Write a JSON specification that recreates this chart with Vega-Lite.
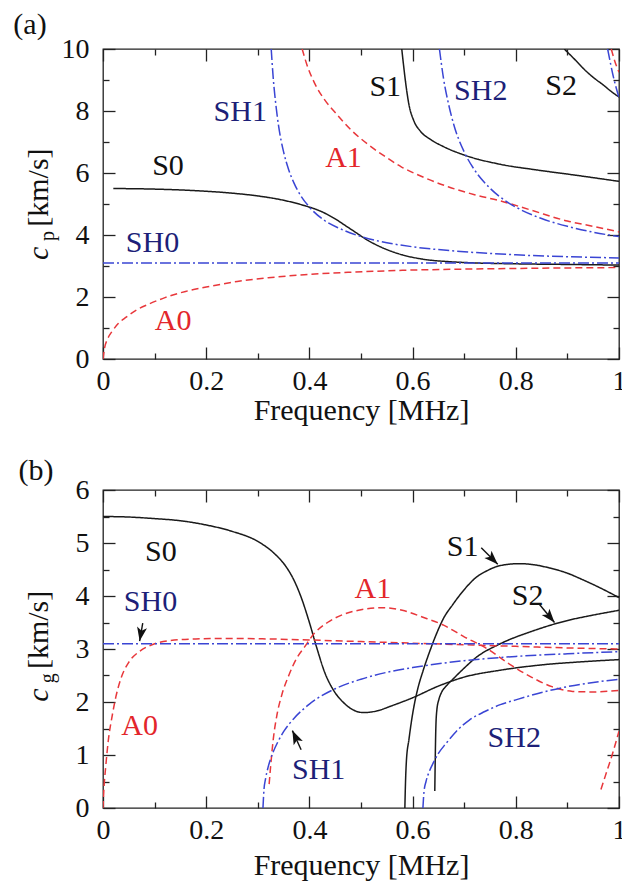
{
"$schema": "https://vega.github.io/schema/vega-lite/v6.json",
"padding": {"left": 12, "top": 9, "right": 0, "bottom": 0},
"spacing": 29,
"config": {
 "font": "Liberation Serif, Times New Roman, Times, DejaVu Serif, serif",
 "view": {"stroke": "#222222", "strokeWidth": 1.3},
 "text": {"font": "Liberation Serif, Times New Roman, Times, DejaVu Serif, serif"},
 "axis": {"grid": false, "domain": false, "labelFont": "Liberation Serif, Times New Roman, Times, DejaVu Serif, serif", "titleFont": "Liberation Serif, Times New Roman, Times, DejaVu Serif, serif", "labelColor": "#111111", "titleColor": "#111111", "tickColor": "#222222", "tickWidth": 1.3, "labelFontSize": 28, "titleFontSize": 30, "titleFontWeight": "normal", "labelFlush": false, "labelOverlap": false}
},
"datasets": {
 "curvesA": [
  {"m":"S0","fam":"S","f":0.02,"v":5.5},{"m":"S0","fam":"S","f":0.1,"v":5.48},{"m":"S0","fam":"S","f":0.18,"v":5.43},{"m":"S0","fam":"S","f":0.25,"v":5.35},{"m":"S0","fam":"S","f":0.3,"v":5.26},{"m":"S0","fam":"S","f":0.35,"v":5.12},{"m":"S0","fam":"S","f":0.39,"v":4.95},{"m":"S0","fam":"S","f":0.42,"v":4.78},{"m":"S0","fam":"S","f":0.45,"v":4.52},{"m":"S0","fam":"S","f":0.47,"v":4.3},{"m":"S0","fam":"S","f":0.49,"v":4.08},{"m":"S0","fam":"S","f":0.51,"v":3.86},{"m":"S0","fam":"S","f":0.54,"v":3.6},{"m":"S0","fam":"S","f":0.58,"v":3.36},{"m":"S0","fam":"S","f":0.62,"v":3.22},{"m":"S0","fam":"S","f":0.67,"v":3.14},{"m":"S0","fam":"S","f":0.72,"v":3.1},{"m":"S0","fam":"S","f":0.8,"v":3.07},{"m":"S0","fam":"S","f":0.9,"v":3.05},{"m":"S0","fam":"S","f":1.0,"v":3.03},
  {"m":"A0","fam":"A","f":0,"v":0},{"m":"A0","fam":"A","f":0.003,"v":0.35},{"m":"A0","fam":"A","f":0.009,"v":0.65},{"m":"A0","fam":"A","f":0.018,"v":0.9},{"m":"A0","fam":"A","f":0.03,"v":1.15},{"m":"A0","fam":"A","f":0.045,"v":1.35},{"m":"A0","fam":"A","f":0.065,"v":1.58},{"m":"A0","fam":"A","f":0.09,"v":1.78},{"m":"A0","fam":"A","f":0.12,"v":1.98},{"m":"A0","fam":"A","f":0.16,"v":2.18},{"m":"A0","fam":"A","f":0.2,"v":2.32},{"m":"A0","fam":"A","f":0.26,"v":2.5},{"m":"A0","fam":"A","f":0.32,"v":2.62},{"m":"A0","fam":"A","f":0.39,"v":2.72},{"m":"A0","fam":"A","f":0.48,"v":2.8},{"m":"A0","fam":"A","f":0.58,"v":2.86},{"m":"A0","fam":"A","f":0.7,"v":2.9},{"m":"A0","fam":"A","f":0.85,"v":2.93},{"m":"A0","fam":"A","f":1.0,"v":2.95},
  {"m":"SH0","fam":"SH","f":0,"v":3.1},{"m":"SH0","fam":"SH","f":1,"v":3.1},
  {"m":"SH1","fam":"SH","f":0.326,"v":10},{"m":"SH1","fam":"SH","f":0.33,"v":9.04},{"m":"SH1","fam":"SH","f":0.335,"v":8.2},{"m":"SH1","fam":"SH","f":0.34,"v":7.55},{"m":"SH1","fam":"SH","f":0.35,"v":6.68},{"m":"SH1","fam":"SH","f":0.36,"v":6.1},{"m":"SH1","fam":"SH","f":0.37,"v":5.68},{"m":"SH1","fam":"SH","f":0.385,"v":5.22},{"m":"SH1","fam":"SH","f":0.4,"v":4.9},{"m":"SH1","fam":"SH","f":0.43,"v":4.46},{"m":"SH1","fam":"SH","f":0.46,"v":4.2},{"m":"SH1","fam":"SH","f":0.5,"v":3.95},{"m":"SH1","fam":"SH","f":0.55,"v":3.75},{"m":"SH1","fam":"SH","f":0.6,"v":3.62},{"m":"SH1","fam":"SH","f":0.7,"v":3.46},{"m":"SH1","fam":"SH","f":0.8,"v":3.36},{"m":"SH1","fam":"SH","f":0.9,"v":3.3},{"m":"SH1","fam":"SH","f":1.0,"v":3.26},
  {"m":"A1","fam":"A","f":0.386,"v":10},{"m":"A1","fam":"A","f":0.395,"v":9.5},{"m":"A1","fam":"A","f":0.41,"v":8.9},{"m":"A1","fam":"A","f":0.43,"v":8.35},{"m":"A1","fam":"A","f":0.45,"v":7.95},{"m":"A1","fam":"A","f":0.48,"v":7.4},{"m":"A1","fam":"A","f":0.513,"v":6.93},{"m":"A1","fam":"A","f":0.545,"v":6.55},{"m":"A1","fam":"A","f":0.578,"v":6.2},{"m":"A1","fam":"A","f":0.62,"v":5.87},{"m":"A1","fam":"A","f":0.67,"v":5.55},{"m":"A1","fam":"A","f":0.72,"v":5.3},{"m":"A1","fam":"A","f":0.77,"v":5.1},{"m":"A1","fam":"A","f":0.83,"v":4.8},{"m":"A1","fam":"A","f":0.9,"v":4.45},{"m":"A1","fam":"A","f":0.95,"v":4.28},{"m":"A1","fam":"A","f":1.0,"v":4.1},
  {"m":"S1","fam":"S","f":0.579,"v":10},{"m":"S1","fam":"S","f":0.583,"v":9.4},{"m":"S1","fam":"S","f":0.587,"v":8.85},{"m":"S1","fam":"S","f":0.593,"v":8.2},{"m":"S1","fam":"S","f":0.602,"v":7.7},{"m":"S1","fam":"S","f":0.615,"v":7.35},{"m":"S1","fam":"S","f":0.635,"v":7.08},{"m":"S1","fam":"S","f":0.66,"v":6.85},{"m":"S1","fam":"S","f":0.7,"v":6.58},{"m":"S1","fam":"S","f":0.77,"v":6.28},{"m":"S1","fam":"S","f":0.84,"v":6.1},{"m":"S1","fam":"S","f":0.92,"v":5.92},{"m":"S1","fam":"S","f":1.0,"v":5.73},
  {"m":"SH2","fam":"SH","f":0.652,"v":10},{"m":"SH2","fam":"SH","f":0.66,"v":9.04},{"m":"SH2","fam":"SH","f":0.67,"v":8.2},{"m":"SH2","fam":"SH","f":0.68,"v":7.55},{"m":"SH2","fam":"SH","f":0.7,"v":6.68},{"m":"SH2","fam":"SH","f":0.72,"v":6.1},{"m":"SH2","fam":"SH","f":0.75,"v":5.51},{"m":"SH2","fam":"SH","f":0.78,"v":5.1},{"m":"SH2","fam":"SH","f":0.8,"v":4.9},{"m":"SH2","fam":"SH","f":0.85,"v":4.53},{"m":"SH2","fam":"SH","f":0.9,"v":4.28},{"m":"SH2","fam":"SH","f":0.95,"v":4.09},{"m":"SH2","fam":"SH","f":1.0,"v":3.95},
  {"m":"S2","fam":"S","f":0.894,"v":10},{"m":"S2","fam":"S","f":0.915,"v":9.65},{"m":"S2","fam":"S","f":0.936,"v":9.29},{"m":"S2","fam":"S","f":0.955,"v":9.02},{"m":"S2","fam":"S","f":0.968,"v":8.86},{"m":"S2","fam":"S","f":0.985,"v":8.63},{"m":"S2","fam":"S","f":1.0,"v":8.45},
  {"m":"SH3","fam":"SH","f":0.978,"v":10},{"m":"SH3","fam":"SH","f":0.99,"v":9.04},{"m":"SH3","fam":"SH","f":1.0,"v":8.43},
  {"m":"A2","fam":"A","f":0.985,"v":10},{"m":"A2","fam":"A","f":0.992,"v":9.6},{"m":"A2","fam":"A","f":1.0,"v":9.25}
 ],
 "labelsA": [
  {"lab":"S0","fam":"S","f":0.126,"v":6.22},{"lab":"SH1","fam":"SH","f":0.266,"v":7.98},{"lab":"A1","fam":"A","f":0.466,"v":6.48},{"lab":"S1","fam":"S","f":0.547,"v":8.79},{"lab":"SH2","fam":"SH","f":0.732,"v":8.63},{"lab":"S2","fam":"S","f":0.888,"v":8.82},{"lab":"SH0","fam":"SH","f":0.096,"v":3.75},{"lab":"A0","fam":"A","f":0.136,"v":1.23}
 ],
 "curvesB": [
  {"m":"S0","fam":"S","f":0,"v":5.5},{"m":"S0","fam":"S","f":0.05,"v":5.49},{"m":"S0","fam":"S","f":0.1,"v":5.46},{"m":"S0","fam":"S","f":0.15,"v":5.42},{"m":"S0","fam":"S","f":0.2,"v":5.34},{"m":"S0","fam":"S","f":0.25,"v":5.22},{"m":"S0","fam":"S","f":0.3,"v":5.03},{"m":"S0","fam":"S","f":0.33,"v":4.82},{"m":"S0","fam":"S","f":0.355,"v":4.55},{"m":"S0","fam":"S","f":0.37,"v":4.3},{"m":"S0","fam":"S","f":0.385,"v":3.95},{"m":"S0","fam":"S","f":0.4,"v":3.5},{"m":"S0","fam":"S","f":0.415,"v":3.0},{"m":"S0","fam":"S","f":0.43,"v":2.55},{"m":"S0","fam":"S","f":0.445,"v":2.25},{"m":"S0","fam":"S","f":0.465,"v":2.0},{"m":"S0","fam":"S","f":0.485,"v":1.85},{"m":"S0","fam":"S","f":0.505,"v":1.8},{"m":"S0","fam":"S","f":0.53,"v":1.83},{"m":"S0","fam":"S","f":0.56,"v":1.93},{"m":"S0","fam":"S","f":0.6,"v":2.08},{"m":"S0","fam":"S","f":0.65,"v":2.3},{"m":"S0","fam":"S","f":0.7,"v":2.47},{"m":"S0","fam":"S","f":0.77,"v":2.6},{"m":"S0","fam":"S","f":0.85,"v":2.7},{"m":"S0","fam":"S","f":0.93,"v":2.76},{"m":"S0","fam":"S","f":1.0,"v":2.8},
  {"m":"S1","fam":"S","f":0.585,"v":0},{"m":"S1","fam":"S","f":0.586,"v":0.4},{"m":"S1","fam":"S","f":0.588,"v":0.89},{"m":"S1","fam":"S","f":0.593,"v":1.3},{"m":"S1","fam":"S","f":0.601,"v":1.83},{"m":"S1","fam":"S","f":0.61,"v":2.25},{"m":"S1","fam":"S","f":0.62,"v":2.58},{"m":"S1","fam":"S","f":0.633,"v":2.95},{"m":"S1","fam":"S","f":0.646,"v":3.28},{"m":"S1","fam":"S","f":0.66,"v":3.58},{"m":"S1","fam":"S","f":0.678,"v":3.84},{"m":"S1","fam":"S","f":0.7,"v":4.12},{"m":"S1","fam":"S","f":0.723,"v":4.35},{"m":"S1","fam":"S","f":0.745,"v":4.48},{"m":"S1","fam":"S","f":0.768,"v":4.57},{"m":"S1","fam":"S","f":0.807,"v":4.61},{"m":"S1","fam":"S","f":0.835,"v":4.59},{"m":"S1","fam":"S","f":0.865,"v":4.53},{"m":"S1","fam":"S","f":0.9,"v":4.43},{"m":"S1","fam":"S","f":0.929,"v":4.31},{"m":"S1","fam":"S","f":0.96,"v":4.17},{"m":"S1","fam":"S","f":1.0,"v":3.97},
  {"m":"S2","fam":"S","f":0.643,"v":0.32},{"m":"S2","fam":"S","f":0.644,"v":1.0},{"m":"S2","fam":"S","f":0.645,"v":1.5},{"m":"S2","fam":"S","f":0.647,"v":1.85},{"m":"S2","fam":"S","f":0.651,"v":2.05},{"m":"S2","fam":"S","f":0.656,"v":2.18},{"m":"S2","fam":"S","f":0.665,"v":2.3},{"m":"S2","fam":"S","f":0.678,"v":2.43},{"m":"S2","fam":"S","f":0.7,"v":2.64},{"m":"S2","fam":"S","f":0.723,"v":2.84},{"m":"S2","fam":"S","f":0.768,"v":3.09},{"m":"S2","fam":"S","f":0.833,"v":3.34},{"m":"S2","fam":"S","f":0.897,"v":3.53},{"m":"S2","fam":"S","f":0.95,"v":3.64},{"m":"S2","fam":"S","f":1.0,"v":3.73},
  {"m":"A0","fam":"A","f":0,"v":0},{"m":"A0","fam":"A","f":0.002,"v":0.4},{"m":"A0","fam":"A","f":0.005,"v":0.75},{"m":"A0","fam":"A","f":0.01,"v":1.25},{"m":"A0","fam":"A","f":0.018,"v":1.75},{"m":"A0","fam":"A","f":0.025,"v":2.1},{"m":"A0","fam":"A","f":0.035,"v":2.45},{"m":"A0","fam":"A","f":0.05,"v":2.75},{"m":"A0","fam":"A","f":0.07,"v":2.95},{"m":"A0","fam":"A","f":0.095,"v":3.08},{"m":"A0","fam":"A","f":0.13,"v":3.16},{"m":"A0","fam":"A","f":0.18,"v":3.19},{"m":"A0","fam":"A","f":0.25,"v":3.2},{"m":"A0","fam":"A","f":0.32,"v":3.19},{"m":"A0","fam":"A","f":0.4,"v":3.17},{"m":"A0","fam":"A","f":0.5,"v":3.14},{"m":"A0","fam":"A","f":0.6,"v":3.11},{"m":"A0","fam":"A","f":0.7,"v":3.08},{"m":"A0","fam":"A","f":0.8,"v":3.05},{"m":"A0","fam":"A","f":0.9,"v":3.02},{"m":"A0","fam":"A","f":1.0,"v":3.0},
  {"m":"A1","fam":"A","f":0.322,"v":0.45},{"m":"A1","fam":"A","f":0.325,"v":0.8},{"m":"A1","fam":"A","f":0.33,"v":1.3},{"m":"A1","fam":"A","f":0.337,"v":1.75},{"m":"A1","fam":"A","f":0.347,"v":2.15},{"m":"A1","fam":"A","f":0.36,"v":2.5},{"m":"A1","fam":"A","f":0.375,"v":2.82},{"m":"A1","fam":"A","f":0.39,"v":3.03},{"m":"A1","fam":"A","f":0.41,"v":3.3},{"m":"A1","fam":"A","f":0.435,"v":3.5},{"m":"A1","fam":"A","f":0.465,"v":3.65},{"m":"A1","fam":"A","f":0.5,"v":3.74},{"m":"A1","fam":"A","f":0.54,"v":3.78},{"m":"A1","fam":"A","f":0.58,"v":3.73},{"m":"A1","fam":"A","f":0.62,"v":3.6},{"m":"A1","fam":"A","f":0.66,"v":3.45},{"m":"A1","fam":"A","f":0.7,"v":3.23},{"m":"A1","fam":"A","f":0.74,"v":3.03},{"m":"A1","fam":"A","f":0.79,"v":2.7},{"m":"A1","fam":"A","f":0.83,"v":2.47},{"m":"A1","fam":"A","f":0.87,"v":2.29},{"m":"A1","fam":"A","f":0.91,"v":2.2},{"m":"A1","fam":"A","f":0.95,"v":2.19},{"m":"A1","fam":"A","f":1.0,"v":2.22},
  {"m":"A2","fam":"A","f":0.965,"v":0.35},{"m":"A2","fam":"A","f":0.975,"v":0.65},{"m":"A2","fam":"A","f":0.987,"v":1.01},{"m":"A2","fam":"A","f":1.0,"v":1.45},
  {"m":"SH0","fam":"SH","f":0,"v":3.1},{"m":"SH0","fam":"SH","f":1,"v":3.1},
  {"m":"SH1","fam":"SH","f":0.31,"v":0},{"m":"SH1","fam":"SH","f":0.312,"v":0.35},{"m":"SH1","fam":"SH","f":0.315,"v":0.55},{"m":"SH1","fam":"SH","f":0.32,"v":0.77},{"m":"SH1","fam":"SH","f":0.33,"v":1.06},{"m":"SH1","fam":"SH","f":0.34,"v":1.27},{"m":"SH1","fam":"SH","f":0.35,"v":1.44},{"m":"SH1","fam":"SH","f":0.37,"v":1.69},{"m":"SH1","fam":"SH","f":0.4,"v":1.96},{"m":"SH1","fam":"SH","f":0.45,"v":2.25},{"m":"SH1","fam":"SH","f":0.5,"v":2.43},{"m":"SH1","fam":"SH","f":0.55,"v":2.56},{"m":"SH1","fam":"SH","f":0.6,"v":2.65},{"m":"SH1","fam":"SH","f":0.7,"v":2.78},{"m":"SH1","fam":"SH","f":0.8,"v":2.86},{"m":"SH1","fam":"SH","f":0.9,"v":2.91},{"m":"SH1","fam":"SH","f":1.0,"v":2.95},
  {"m":"SH2","fam":"SH","f":0.62,"v":0},{"m":"SH2","fam":"SH","f":0.622,"v":0.3},{"m":"SH2","fam":"SH","f":0.626,"v":0.5},{"m":"SH2","fam":"SH","f":0.632,"v":0.68},{"m":"SH2","fam":"SH","f":0.64,"v":0.85},{"m":"SH2","fam":"SH","f":0.65,"v":1.03},{"m":"SH2","fam":"SH","f":0.665,"v":1.22},{"m":"SH2","fam":"SH","f":0.685,"v":1.45},{"m":"SH2","fam":"SH","f":0.71,"v":1.66},{"m":"SH2","fam":"SH","f":0.74,"v":1.82},{"m":"SH2","fam":"SH","f":0.77,"v":1.95},{"m":"SH2","fam":"SH","f":0.8,"v":2.04},{"m":"SH2","fam":"SH","f":0.85,"v":2.18},{"m":"SH2","fam":"SH","f":0.9,"v":2.29},{"m":"SH2","fam":"SH","f":0.95,"v":2.37},{"m":"SH2","fam":"SH","f":1.0,"v":2.43}
 ],
 "labelsB": [
  {"lab":"S0","fam":"S","f":0.112,"v":4.83},{"lab":"SH0","fam":"SH","f":0.092,"v":3.89},{"lab":"A0","fam":"A","f":0.071,"v":1.54},{"lab":"A1","fam":"A","f":0.523,"v":4.13},{"lab":"S1","fam":"S","f":0.697,"v":4.93},{"lab":"S2","fam":"S","f":0.823,"v":4.0},{"lab":"SH1","fam":"SH","f":0.418,"v":0.72},{"lab":"SH2","fam":"SH","f":0.797,"v":1.33}
 ],
 "arrowsB": [
  {"a":"SH0","f":0.077,"v":3.49,"f2":0.071,"v2":3.15},
  {"a":"S1","f":0.733,"v":4.91,"f2":0.765,"v2":4.6},
  {"a":"S2","f":0.846,"v":3.84,"f2":0.875,"v2":3.5},
  {"a":"SH1","f":0.384,"v":1.1,"f2":0.367,"v2":1.46}
 ]
},
"vconcat": [
 {
  "width": 516, "height": 310,
  "resolve": {"axis": {"x": "independent", "y": "independent"}, "scale": {"color": "independent"}},
  "layer": [
   {
    "data": {"name": "curvesA"},
    "mark": {"type": "line", "strokeWidth": 1.5, "interpolate": "monotone", "clip": true},
    "encoding": {
     "x": {"field": "f", "type": "quantitative", "scale": {"domain": [0, 1]}, "axis": {"orient": "bottom", "values": [0, 0.2, 0.4, 0.6, 0.8, 1], "format": "~g", "tickSize": -12, "labelPadding": 20, "title": "Frequency [MHz]", "titlePadding": 0}},
     "y": {"field": "v", "type": "quantitative", "scale": {"domain": [0, 10]}, "axis": {"orient": "left", "values": [0, 2, 4, 6, 8, 10], "format": "d", "tickSize": -12, "labelPadding": 26, "title": null}},
     "color": {"field": "fam", "type": "nominal", "scale": {"domain": ["S", "A", "SH"], "range": ["#1a1a1a", "#e8373b", "#3a45d4"]}, "legend": null},
     "strokeDash": {"field": "fam", "type": "nominal", "scale": {"domain": ["S", "A", "SH"], "range": [[1, 0], [7, 4], [11, 3, 2, 3]]}, "legend": null},
     "detail": {"field": "m"}
    }
   },
   {
    "data": {"name": "labelsA"},
    "mark": {"type": "text", "fontSize": 30, "baseline": "middle", "align": "center"},
    "encoding": {
     "x": {"field": "f", "type": "quantitative", "scale": {"domain": [0, 1]}, "axis": {"orient": "top", "values": [0, 0.2, 0.4, 0.6, 0.8, 1], "labels": false, "tickSize": -12, "title": null}},
     "y": {"field": "v", "type": "quantitative", "scale": {"domain": [0, 10]}, "axis": {"orient": "right", "values": [0, 2, 4, 6, 8, 10], "labels": false, "tickSize": -12, "title": null}},
     "text": {"field": "lab"},
     "color": {"field": "fam", "type": "nominal", "scale": {"domain": ["S", "A", "SH"], "range": ["#111111", "#e3262b", "#1d1f78"]}, "legend": null}
    }
   },
   {
    "data": {"values": [{"t": "(a)", "f": -0.1415, "v": 10.77}]},
    "mark": {"type": "text", "fontSize": 30, "baseline": "middle", "align": "center", "color": "#111111"},
    "encoding": {
     "x": {"field": "f", "type": "quantitative", "scale": {"domain": [0, 1]}, "axis": {"orient": "bottom", "values": [0.1, 0.3, 0.5, 0.7, 0.9], "labels": false, "tickSize": -6, "title": null}},
     "y": {"field": "v", "type": "quantitative", "scale": {"domain": [0, 10]}, "axis": {"orient": "left", "values": [1, 3, 5, 7, 9], "labels": false, "tickSize": -6, "title": null}},
     "text": {"field": "t"}
    }
   },
   {
    "data": {"values": [{"t": "c", "f": -0.107, "v": 3.41}]},
    "mark": {"type": "text", "fontSize": 30, "fontStyle": "italic", "baseline": "alphabetic", "align": "center", "angle": 270, "color": "#111111"},
    "encoding": {
     "x": {"field": "f", "type": "quantitative", "scale": {"domain": [0, 1]}, "axis": {"orient": "top", "values": [0.1, 0.3, 0.5, 0.7, 0.9], "labels": false, "tickSize": -6, "title": null}},
     "y": {"field": "v", "type": "quantitative", "scale": {"domain": [0, 10]}, "axis": {"orient": "right", "values": [1, 3, 5, 7, 9], "labels": false, "tickSize": -6, "title": null}},
     "text": {"field": "t"}
    }
   },
   {
    "data": {"values": [{"t": "p", "f": -0.107, "v": 3.97}]},
    "mark": {"type": "text", "fontSize": 20, "baseline": "alphabetic", "align": "center", "angle": 270, "dy": 6, "color": "#111111"},
    "encoding": {
     "x": {"field": "f", "type": "quantitative", "scale": {"domain": [0, 1]}, "axis": null},
     "y": {"field": "v", "type": "quantitative", "scale": {"domain": [0, 10]}, "axis": null},
     "text": {"field": "t"}
    }
   },
   {
    "data": {"values": [{"t": "[km/s]", "f": -0.107, "v": 5.53}]},
    "mark": {"type": "text", "fontSize": 30, "baseline": "alphabetic", "align": "center", "angle": 270, "color": "#111111"},
    "encoding": {
     "x": {"field": "f", "type": "quantitative", "scale": {"domain": [0, 1]}, "axis": null},
     "y": {"field": "v", "type": "quantitative", "scale": {"domain": [0, 10]}, "axis": null},
     "text": {"field": "t"}
    }
   }
  ]
 },
 {
  "width": 516, "height": 318,
  "resolve": {"axis": {"x": "independent", "y": "independent"}, "scale": {"color": "independent"}},
  "layer": [
   {
    "data": {"name": "curvesB"},
    "mark": {"type": "line", "strokeWidth": 1.5, "interpolate": "monotone", "clip": true},
    "encoding": {
     "x": {"field": "f", "type": "quantitative", "scale": {"domain": [0, 1]}, "axis": {"orient": "bottom", "values": [0, 0.2, 0.4, 0.6, 0.8, 1], "format": "~g", "tickSize": -12, "labelPadding": 20, "title": "Frequency [MHz]", "titlePadding": 6}},
     "y": {"field": "v", "type": "quantitative", "scale": {"domain": [0, 6]}, "axis": {"orient": "left", "values": [0, 1, 2, 3, 4, 5, 6], "format": "d", "tickSize": -12, "labelPadding": 26, "title": null}},
     "color": {"field": "fam", "type": "nominal", "scale": {"domain": ["S", "A", "SH"], "range": ["#1a1a1a", "#e8373b", "#3a45d4"]}, "legend": null},
     "strokeDash": {"field": "fam", "type": "nominal", "scale": {"domain": ["S", "A", "SH"], "range": [[1, 0], [7, 4], [11, 3, 2, 3]]}, "legend": null},
     "detail": {"field": "m"}
    }
   },
   {
    "data": {"name": "labelsB"},
    "mark": {"type": "text", "fontSize": 30, "baseline": "middle", "align": "center"},
    "encoding": {
     "x": {"field": "f", "type": "quantitative", "scale": {"domain": [0, 1]}, "axis": {"orient": "top", "values": [0, 0.2, 0.4, 0.6, 0.8, 1], "labels": false, "tickSize": -12, "title": null}},
     "y": {"field": "v", "type": "quantitative", "scale": {"domain": [0, 6]}, "axis": {"orient": "right", "values": [0, 1, 2, 3, 4, 5, 6], "labels": false, "tickSize": -12, "title": null}},
     "text": {"field": "lab"},
     "color": {"field": "fam", "type": "nominal", "scale": {"domain": ["S", "A", "SH"], "range": ["#111111", "#e3262b", "#1d1f78"]}, "legend": null}
    }
   },
   {
    "data": {"values": [{"t": "(b)", "f": -0.13, "v": 6.36}]},
    "mark": {"type": "text", "fontSize": 30, "baseline": "middle", "align": "center", "color": "#111111"},
    "encoding": {
     "x": {"field": "f", "type": "quantitative", "scale": {"domain": [0, 1]}, "axis": {"orient": "bottom", "values": [0.1, 0.3, 0.5, 0.7, 0.9], "labels": false, "tickSize": -6, "title": null}},
     "y": {"field": "v", "type": "quantitative", "scale": {"domain": [0, 6]}, "axis": {"orient": "left", "values": [0.5, 1.5, 2.5, 3.5, 4.5, 5.5], "labels": false, "tickSize": -6, "title": null}},
     "text": {"field": "t"}
    }
   },
   {
    "data": {"values": [{"t": "c", "f": -0.107, "v": 2.13}]},
    "mark": {"type": "text", "fontSize": 30, "fontStyle": "italic", "baseline": "alphabetic", "align": "center", "angle": 270, "color": "#111111"},
    "encoding": {
     "x": {"field": "f", "type": "quantitative", "scale": {"domain": [0, 1]}, "axis": {"orient": "top", "values": [0.1, 0.3, 0.5, 0.7, 0.9], "labels": false, "tickSize": -6, "title": null}},
     "y": {"field": "v", "type": "quantitative", "scale": {"domain": [0, 6]}, "axis": {"orient": "right", "values": [0.5, 1.5, 2.5, 3.5, 4.5, 5.5], "labels": false, "tickSize": -6, "title": null}},
     "text": {"field": "t"}
    }
   },
   {
    "data": {"values": [{"t": "g", "f": -0.107, "v": 2.45}]},
    "mark": {"type": "text", "fontSize": 20, "baseline": "alphabetic", "align": "center", "angle": 270, "dy": 6, "color": "#111111"},
    "encoding": {
     "x": {"field": "f", "type": "quantitative", "scale": {"domain": [0, 1]}, "axis": null},
     "y": {"field": "v", "type": "quantitative", "scale": {"domain": [0, 6]}, "axis": null},
     "text": {"field": "t"}
    }
   },
   {
    "data": {"values": [{"t": "[km/s]", "f": -0.107, "v": 3.36}]},
    "mark": {"type": "text", "fontSize": 30, "baseline": "alphabetic", "align": "center", "angle": 270, "color": "#111111"},
    "encoding": {
     "x": {"field": "f", "type": "quantitative", "scale": {"domain": [0, 1]}, "axis": null},
     "y": {"field": "v", "type": "quantitative", "scale": {"domain": [0, 6]}, "axis": null},
     "text": {"field": "t"}
    }
   },
   {
    "data": {"name": "arrowsB"},
    "mark": {"type": "rule", "strokeWidth": 1.4, "color": "#111111"},
    "encoding": {
     "x": {"field": "f", "type": "quantitative", "scale": {"domain": [0, 1]}, "axis": null},
     "y": {"field": "v", "type": "quantitative", "scale": {"domain": [0, 6]}, "axis": null},
     "x2": {"field": "f2"},
     "y2": {"field": "v2"}
    }
   },
   {
    "data": {"name": "arrowsB"},
    "transform": [{"filter": "datum.a == 'SH0'"}],
    "mark": {"type": "point", "shape": "M0,0L-0.38,1.05L0,0.8L0.38,1.05Z", "filled": true, "size": 700, "angle": 190, "color": "#111111", "opacity": 1},
    "encoding": {
     "x": {"field": "f2", "type": "quantitative", "scale": {"domain": [0, 1]}, "axis": null},
     "y": {"field": "v2", "type": "quantitative", "scale": {"domain": [0, 6]}, "axis": null}
    }
   },
   {
    "data": {"name": "arrowsB"},
    "transform": [{"filter": "datum.a == 'S1'"}],
    "mark": {"type": "point", "shape": "M0,0L-0.38,1.05L0,0.8L0.38,1.05Z", "filled": true, "size": 700, "angle": 135, "color": "#111111", "opacity": 1},
    "encoding": {
     "x": {"field": "f2", "type": "quantitative", "scale": {"domain": [0, 1]}, "axis": null},
     "y": {"field": "v2", "type": "quantitative", "scale": {"domain": [0, 6]}, "axis": null}
    }
   },
   {
    "data": {"name": "arrowsB"},
    "transform": [{"filter": "datum.a == 'S2'"}],
    "mark": {"type": "point", "shape": "M0,0L-0.38,1.05L0,0.8L0.38,1.05Z", "filled": true, "size": 700, "angle": 140, "color": "#111111", "opacity": 1},
    "encoding": {
     "x": {"field": "f2", "type": "quantitative", "scale": {"domain": [0, 1]}, "axis": null},
     "y": {"field": "v2", "type": "quantitative", "scale": {"domain": [0, 6]}, "axis": null}
    }
   },
   {
    "data": {"name": "arrowsB"},
    "transform": [{"filter": "datum.a == 'SH1'"}],
    "mark": {"type": "point", "shape": "M0,0L-0.38,1.05L0,0.8L0.38,1.05Z", "filled": true, "size": 700, "angle": 335, "color": "#111111", "opacity": 1},
    "encoding": {
     "x": {"field": "f2", "type": "quantitative", "scale": {"domain": [0, 1]}, "axis": null},
     "y": {"field": "v2", "type": "quantitative", "scale": {"domain": [0, 6]}, "axis": null}
    }
   }
  ]
 }
]
}
